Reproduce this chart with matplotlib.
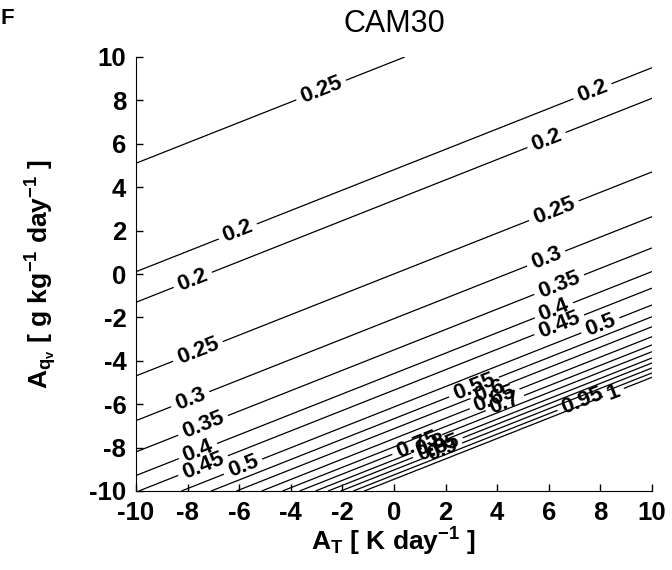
import numpy as np
import matplotlib
matplotlib.use("Agg")
import matplotlib.pyplot as plt

plt.rcParams['font.family'] = ['Liberation Sans', 'DejaVu Sans']
plt.rcParams['mathtext.default'] = 'regular'
plt.rcParams['axes.unicode_minus'] = False

# contour value and the A_qv where that contour crosses A_T = 0
# the first/last pair only fix the field beyond the plotted lines
cross_aq = [-15.0, -9.45, -9.26, -9.03, -8.80, -8.57, -8.28, -7.97, -7.59, -7.13,
            -6.67, -6.13, -5.35, -4.59, -3.50, -2.06, 0.0, 3.4, 4.1, 4.8, 9.8, 15.0]
cross_val = [1.4, 1.0, 0.95, 0.9, 0.85, 0.8, 0.75, 0.7, 0.65, 0.6,
             0.55, 0.5, 0.45, 0.4, 0.35, 0.3, 0.25, 0.2, 0.185, 0.2, 0.25, 0.28]
slope = 0.47   # dA_qv/dA_T along the contours

levels = [0.2, 0.25, 0.3, 0.35, 0.4, 0.45, 0.5, 0.55, 0.6, 0.65,
          0.7, 0.75, 0.8, 0.85, 0.9, 0.95, 1.0]
ticks = [-10, -8, -6, -4, -2, 0, 2, 4, 6, 8, 10]

# where the labels sit (A_T, A_qv), snapped to the nearest line
label_xy = [(-2.8, 8.4), (7.7, 8.4), (-6.05, 1.95), (5.9, 6.2), (-7.8, -0.27),
            (-7.6, -3.57), (6.2, 2.91), (-7.9, -5.77), (5.9, 0.71), (-7.4, -6.98),
            (6.4, -0.49), (-7.6, -8.16), (6.2, -1.68), (-7.4, -8.83), (6.4, -2.34),
            (-5.85, -8.88), (8.0, -2.37),
            (3.1, -5.21), (3.7, -5.39), (3.9, -5.76), (4.3, -5.95),
            (0.9, -7.86), (1.4, -7.91), (1.7, -8.0), (1.9, -8.14),
            (7.3, -5.83), (8.5, -5.45)]

at = np.linspace(-10, 10, 401)
aq = np.linspace(-10, 10, 401)
AT, AQ = np.meshgrid(at, aq)
Z = np.interp(AQ - slope * AT, cross_aq, cross_val)

fig = plt.figure(figsize=(6.72, 5.70), dpi=100)
ax = fig.add_axes([136 / 672, 1 - 491 / 570, 516 / 672, 434 / 570])

cs = ax.contour(AT, AQ, Z, levels=levels, colors='k', linewidths=0.9)
plt.rcParams['font.weight'] = 'bold'
ax.clabel(cs, levels, manual=label_xy, inline=True, inline_spacing=5,
          fmt=lambda v: '%g' % round(v, 2), fontsize=16)
plt.rcParams['font.weight'] = 'normal'

ax.set_xlim(-10, 10)
ax.set_ylim(-10, 10)
ax.set_xticks(ticks)
ax.set_yticks(ticks)
ax.tick_params(direction='in', length=5, width=1, labelsize=18.5, pad=7)
for lab in ax.get_xticklabels() + ax.get_yticklabels():
    lab.set_fontweight('bold')
ax.spines['top'].set_visible(False)
ax.spines['right'].set_visible(False)

ax.set_xlabel(r'$A_T$ [ K day$^{-1}$ ]', fontsize=19, fontweight='bold', labelpad=1)
ax.set_ylabel(r'$A_{q_v}$ [ g kg$^{-1}$ day$^{-1}$ ]', fontsize=19, fontweight='bold', labelpad=22)
fig.text(394 / 672, 1 - 24 / 570, 'CAM30', fontsize=22, ha='center', va='center')
fig.text(1 / 672, 1 - 19 / 570, 'F', fontsize=16, fontweight='bold', ha='left', va='center')

fig.savefig('out.png', dpi=100)
